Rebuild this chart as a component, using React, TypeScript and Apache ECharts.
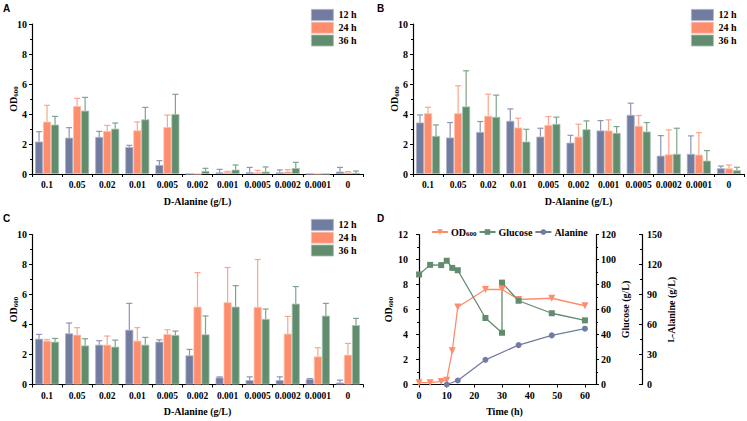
import React, { useEffect, useRef } from "react";
import * as echarts from "echarts";

const categories = ["0.1", "0.05", "0.02", "0.01", "0.005", "0.002", "0.001", "0.0005", "0.0002", "0.0001", "0"];
const groups = ["12 h", "24 h", "36 h"];

// Panel A
const mean12A = [2.16, 2.42, 2.47, 1.8, 0.6, 0, 0.11, 0.13, 0.11, 0, 0.16];
const err12A = [0.66, 0.67, 0.37, 0.11, 0.29, 0, 0.2, 0.31, 0.16, 0, 0.28];
const mean24A = [3.49, 4.53, 2.87, 2.91, 3.13, 0, 0.13, 0.11, 0.16, 0, 0.11];
const err24A = [1.09, 0.51, 0.37, 0.56, 0.8, 0, 0.04, 0.13, 0.13, 0, 0.05];
const mean36A = [3.29, 4.22, 3.02, 3.64, 4.0, 0.2, 0.29, 0.16, 0.4, 0, 0.07];
const err36A = [0.55, 0.89, 0.38, 0.8, 1.31, 0.18, 0.31, 0.31, 0.38, 0, 0.13];

// Panel B
const mean12B = [3.43, 2.43, 2.8, 3.54, 2.49, 2.09, 2.9, 3.94, 1.22, 1.34, 0.38];
const err12B = [0.51, 1.0, 0.7, 0.8, 0.56, 0.49, 0.66, 0.78, 1.34, 1.2, 0.15];
const mean24B = [4.05, 4.05, 3.88, 3.1, 3.27, 2.49, 2.9, 3.21, 1.31, 1.29, 0.38];
const err24B = [0.4, 1.83, 1.44, 0.62, 0.56, 0.83, 0.71, 0.69, 1.63, 1.47, 0.22];
const mean36B = [2.54, 4.5, 3.81, 2.16, 3.34, 2.98, 2.74, 2.83, 1.34, 0.89, 0.25];
const err36B = [0.73, 2.38, 1.45, 0.82, 0.45, 0.56, 0.42, 0.6, 1.71, 0.67, 0.2];

// Panel C
const mean12C = [3.05, 3.41, 2.65, 3.65, 2.85, 1.94, 0.47, 0.29, 0.29, 0.36, 0.13];
const err12C = [0.29, 0.69, 0.27, 1.76, 0.13, 0.4, 0.04, 0.22, 0.22, 0.04, 0.16];
const mean24C = [2.92, 3.32, 2.65, 2.92, 3.36, 5.19, 5.48, 5.17, 3.39, 1.87, 1.98];
const err24C = [0.08, 0.47, 0.58, 0.87, 0.29, 2.27, 2.32, 3.16, 1.15, 0.58, 0.76];
const mean36C = [2.85, 2.6, 2.52, 2.65, 3.3, 3.34, 5.19, 4.37, 5.39, 4.59, 3.96];
const err36C = [0.22, 0.45, 0.44, 0.49, 0.26, 1.23, 1.4, 0.66, 1.14, 0.82, 0.45];

// Panel D
const odTime = [0, 4, 8, 10, 12, 14, 24, 30, 36, 48, 60];
const odValues = [0.15, 0.15, 0.25, 0.35, 2.7, 6.2, 7.6, 7.6, 6.8, 6.9, 6.3];
const glucoseTime = [0, 4, 8, 10, 12, 14, 24, 30, 30, 36, 48, 60];
const glucoseValues = [88, 95.7, 95.5, 99, 93.3, 91.4, 53.2, 41.4, 81.5, 67, 57, 51.3];
const alanineTime = [10, 14, 24, 36, 48, 60];
const alanineValues = [0, 4, 24.7, 39.4, 49.1, 55.8];
const timeTicks = [0, 10, 20, 30, 40, 50, 60];

const COLORS = ["#727c9e", "#fd8d6c", "#618c6e"];
const ERR_COLORS = ["#8d96b4", "#fca58a", "#7fa48a"];
const EDGE_COLORS = ["#a9b0c8", "#fdc0ad", "#a5c1ad"];
const FONT = "'Liberation Serif','Times New Roman',serif";
const BARW = 0.266;

const subRich = {
  sub: { fontSize: 7, fontFamily: FONT, fontWeight: "bold" as const, color: "#000", verticalAlign: "bottom" as const, padding: [4, 0, 0, 0] },
};

const baseText = { fontFamily: FONT, fontWeight: "bold" as const, color: "#000" };

function barPanel(gi: number, means: number[][], errs: number[][]) {
  const series: any[] = [];
  for (let k = 0; k < 3; k++) {
    series.push({
      type: "bar",
      name: groups[k],
      xAxisIndex: gi,
      yAxisIndex: gi,
      data: means[k],
      barWidth: (BARW * 100).toFixed(1) + "%",
      barGap: "0%",
      itemStyle: { color: COLORS[k], borderColor: EDGE_COLORS[k], borderWidth: 0.8 },
    });
  }
  for (let k = 0; k < 3; k++) {
    const kk = k;
    series.push({
      type: "custom",
      name: "err" + gi + "_" + k,
      xAxisIndex: gi,
      yAxisIndex: gi,
      z: 3,
      data: means[k].map((m, i) => [i, m, errs[k][i]]),
      encode: { x: 0, y: 1 },
      renderItem: (params: any, api: any) => {
        const ci = api.value(0);
        const v = api.value(1);
        const e = api.value(2);
        if (v === 0 && e === 0) return null;
        const band = api.size([1, 0])[0];
        const bw = band * BARW;
        const off = (kk - 1) * bw;
        const p0 = api.coord([ci, v]);
        const p1 = api.coord([ci, v + e]);
        const x = p0[0] + off;
        const st = { stroke: ERR_COLORS[kk], lineWidth: 1.2 };
        return {
          type: "group",
          children: [
            { type: "line", shape: { x1: x, y1: p0[1], x2: x, y2: p1[1] }, style: st },
            { type: "line", shape: { x1: x - 3, y1: p1[1], x2: x + 3, y2: p1[1] }, style: st },
          ],
        };
      },
    });
  }
  return series;
}

function catXAxis(gi: number) {
  return {
    type: "category",
    gridIndex: gi,
    data: categories,
    name: "D-Alanine (g/L)",
    nameLocation: "middle",
    nameGap: 22,
    nameMoveOverlap: false,
    nameTextStyle: { ...baseText, fontSize: 10 },
    axisLine: { lineStyle: { color: "#000", width: 1.2 } },
    axisTick: { show: true, length: 3, lineStyle: { color: "#000" } },
    axisLabel: { ...baseText, fontSize: 9.5, interval: 0, margin: 6 },
    splitLine: { show: false },
  };
}

function odYAxis(gi: number, nameGap: number) {
  return {
    type: "value",
    gridIndex: gi,
    min: 0,
    max: gi === 3 ? 12 : 10,
    interval: 2,
    name: "OD{sub|600}",
    nameLocation: "middle",
    nameGap,
    nameMoveOverlap: false,
    nameTextStyle: { ...baseText, fontSize: 10, rich: subRich },
    axisLine: { show: true, lineStyle: { color: "#000", width: 1.2 } },
    axisTick: { show: true, length: 3, lineStyle: { color: "#000" } },
    minorTick: { show: true, splitNumber: 2, length: 2, lineStyle: { color: "#000" } },
    axisLabel: { ...baseText, fontSize: 10, margin: 5 },
    splitLine: { show: false },
  };
}

export default function App() {
  const ref = useRef<HTMLDivElement>(null);
  useEffect(() => {
    document.body.style.margin = "0";
    const chart = echarts.init(ref.current!, undefined, { renderer: "svg" });
    const legendBase = {
      orient: "vertical",
      icon: "rect",
      itemWidth: 22,
      itemHeight: 11,
      itemGap: 1,
      selectedMode: false,
      data: groups,
      textStyle: { ...baseText, fontSize: 10 },
      itemStyle: { borderWidth: 0.8 },
    };
    const option: any = {
      animation: false,
      backgroundColor: "#fff",
      grid: [
        { left: 32, top: 24, width: 331, height: 150 },
        { left: 413, top: 24, width: 331, height: 150 },
        { left: 32, top: 234.5, width: 331, height: 150 },
        { left: 413, top: 234.5, width: 183, height: 150 },
      ],
      legend: [
        { ...legendBase, left: 306, top: 4 },
        { ...legendBase, left: 686, top: 4 },
        { ...legendBase, left: 306, top: 214 },
        {
          orient: "horizontal",
          left: 426,
          top: 222,
          itemWidth: 16,
          itemHeight: 7,
          itemGap: 2,
          selectedMode: false,
          data: ["OD600", "Glucose", "Alanine"],
          formatter: (n: string) => (n === "OD600" ? "OD{sub|600}" : n),
          textStyle: { ...baseText, fontSize: 10, padding: [0, 0, 0, -2], rich: subRich },
        },
      ],
      graphic: [
        { type: "text", left: 3, top: 3, style: { text: "A", font: "bold 10px 'Liberation Sans', Arial, sans-serif", fill: "#000" } },
        { type: "text", left: 377, top: 3, style: { text: "B", font: "bold 10px 'Liberation Sans', Arial, sans-serif", fill: "#000" } },
        { type: "text", left: 3, top: 213, style: { text: "C", font: "bold 10px 'Liberation Sans', Arial, sans-serif", fill: "#000" } },
        { type: "text", left: 377, top: 213, style: { text: "D", font: "bold 10px 'Liberation Sans', Arial, sans-serif", fill: "#000" } },
      ],
      xAxis: [
        catXAxis(0),
        catXAxis(1),
        catXAxis(2),
        {
          type: "value",
          gridIndex: 3,
          min: -2.2,
          max: 64,
          name: "Time (h)",
          nameLocation: "middle",
          nameGap: 22,
          nameMoveOverlap: false,
          nameTextStyle: { ...baseText, fontSize: 10 },
          axisLine: { show: true, onZero: false, lineStyle: { color: "#000", width: 1.2 } },
          axisTick: { show: true, length: 3, customValues: timeTicks, lineStyle: { color: "#000" } },
          axisLabel: { ...baseText, fontSize: 10, margin: 6, customValues: timeTicks },
          splitLine: { show: false },
        },
      ],
      yAxis: [
        odYAxis(0, 13),
        odYAxis(1, 13),
        odYAxis(2, 13),
        odYAxis(3, 19),
        {
          type: "value",
          gridIndex: 3,
          position: "right",
          min: 0,
          max: 120,
          interval: 20,
          name: "Glucose (g/L)",
          nameLocation: "middle",
          nameGap: 24,
          nameMoveOverlap: false,
          nameTextStyle: { ...baseText, fontSize: 10 },
          axisLine: { show: true, lineStyle: { color: "#000", width: 1.2 } },
          axisTick: { show: true, length: 3, lineStyle: { color: "#000" } },
          minorTick: { show: true, splitNumber: 2, length: 2, lineStyle: { color: "#000" } },
          axisLabel: { ...baseText, fontSize: 10, margin: 5 },
          splitLine: { show: false },
        },
        {
          type: "value",
          gridIndex: 3,
          position: "right",
          offset: 46,
          min: 0,
          max: 150,
          interval: 30,
          name: "{sc|L}-Alanine (g/L)",
          nameLocation: "middle",
          nameGap: 24,
          nameMoveOverlap: false,
          nameTextStyle: { ...baseText, fontSize: 10, rich: { sc: { ...baseText, fontSize: 7.5 } } },
          axisLine: { show: true, lineStyle: { color: "#000", width: 1.2 } },
          axisTick: { show: true, inside: true, length: 3, lineStyle: { color: "#000" } },
          minorTick: { show: true, splitNumber: 2, length: 2, lineStyle: { color: "#000" } },
          axisLabel: { ...baseText, fontSize: 10, margin: 5 },
          splitLine: { show: false },
        },
      ],
      series: [
        ...barPanel(0, [mean12A, mean24A, mean36A], [err12A, err24A, err36A]),
        ...barPanel(1, [mean12B, mean24B, mean36B], [err12B, err24B, err36B]),
        ...barPanel(2, [mean12C, mean24C, mean36C], [err12C, err24C, err36C]),
        {
          type: "line",
          name: "OD600",
          xAxisIndex: 3,
          yAxisIndex: 3,
          data: odTime.map((t, i) => [t, odValues[i]]),
          symbol: "triangle",
          symbolRotate: 180,
          symbolSize: 7,
          lineStyle: { color: COLORS[1], width: 1.3 },
          itemStyle: { color: COLORS[1] },
        },
        {
          type: "line",
          name: "Glucose",
          xAxisIndex: 3,
          yAxisIndex: 4,
          data: glucoseTime.map((t, i) => [t, glucoseValues[i]]),
          symbol: "rect",
          symbolSize: 6,
          lineStyle: { color: COLORS[2], width: 1.3 },
          itemStyle: { color: COLORS[2] },
        },
        {
          type: "line",
          name: "Alanine",
          xAxisIndex: 3,
          yAxisIndex: 5,
          data: alanineTime.map((t, i) => [t, alanineValues[i]]),
          symbol: "circle",
          symbolSize: 6,
          lineStyle: { color: COLORS[0], width: 1.3 },
          itemStyle: { color: COLORS[0] },
        },
      ],
    };
    chart.setOption(option);
    return () => chart.dispose();
  }, []);
  return <div ref={ref} style={{ width: 747, height: 421 }} />;
}
